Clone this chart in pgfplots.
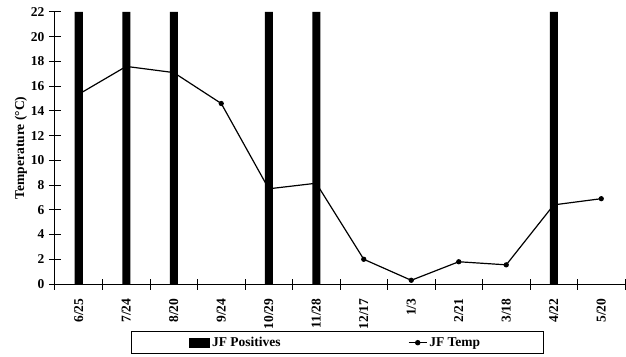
\documentclass[border=0pt]{standalone}
\usepackage{pgfplots}
\pgfplotsset{compat=1.18}
\usepackage{fontspec}
\setmainfont{Liberation Serif}
\newcommand{\ff}{\fontsize{13.5pt}{15pt}\selectfont\bfseries}
\pgfplotstableread{
x temp
0 15.35
1 17.6
2 17.1
3 14.6
4 7.7
5 8.15
6 2.0
7 0.3
8 1.8
9 1.55
10 6.4
11 6.9
}\temptable
\pgfplotstableread{
x pos
0 22
1 22
2 22
4 22
5 22
10 22
}\postable
\begin{document}
\ff
\begin{tikzpicture}
\begin{axis}[
  scale only axis, width=570pt, height=272pt,
  xmin=-0.5, xmax=11.5, ymin=0, ymax=22,
  axis x line*=bottom, axis y line*=left,
  axis line style={line width=1pt, -},
  every tick/.style={black, line width=1pt},
  tick align=center,
  ytick={0,2,...,22},
  major tick length=12pt,
  minor tick length=11pt,
  xtick={0,...,11},
  xticklabels={6/25,7/24,8/20,9/24,10/29,11/28,12/17,1/3,2/21,3/18,4/22,5/20},
  major x tick style={draw=none},
  minor xtick={-0.5,0.5,...,11.5},
  xticklabel style={yshift=-4pt, rotate=90, anchor=east, font=\ff},
  yticklabel style={font=\ff},
  /pgf/number format/assume math mode=true,
  ylabel={Temperature (°C)},
  every axis y label/.style={at={(rel axis cs:0,0.5)}, xshift=-34pt, rotate=90, anchor=center, font=\ff},
  legend columns=2,
  legend style={at={(0.496,0)}, yshift=-47pt, anchor=north, draw=black, line width=1pt,
    inner xsep=57.5pt, inner ysep=3.5pt, font=\ff,
    /tikz/every even column/.append style={column sep=2pt}},
  clip=false,
]
\addlegendimage{legend image code/.code={\fill[black] (0pt,-4.5pt) rectangle (20pt,4.5pt);}}
\addlegendentry{\makebox[192pt][l]{JF Positives}}
\addlegendimage{legend image code/.code={\draw[black, line width=1.2pt] (0pt,0pt) -- (18pt,0pt); \fill[black] (9pt,0pt) circle (2.2pt);}}
\addlegendentry{\makebox[55pt][l]{JF Temp}}
\addplot[forget plot, black, line width=1.2pt, mark=*, mark size=2pt] table[x=x, y=temp] {\temptable};
\addplot[forget plot, ybar, bar width=8pt, fill=black, draw=none] table[x=x, y=pos] {\postable};
\end{axis}
\pgfresetboundingbox
\useasboundingbox (-55pt,-72pt) rectangle (571pt,284pt);
\end{tikzpicture}
\end{document}
